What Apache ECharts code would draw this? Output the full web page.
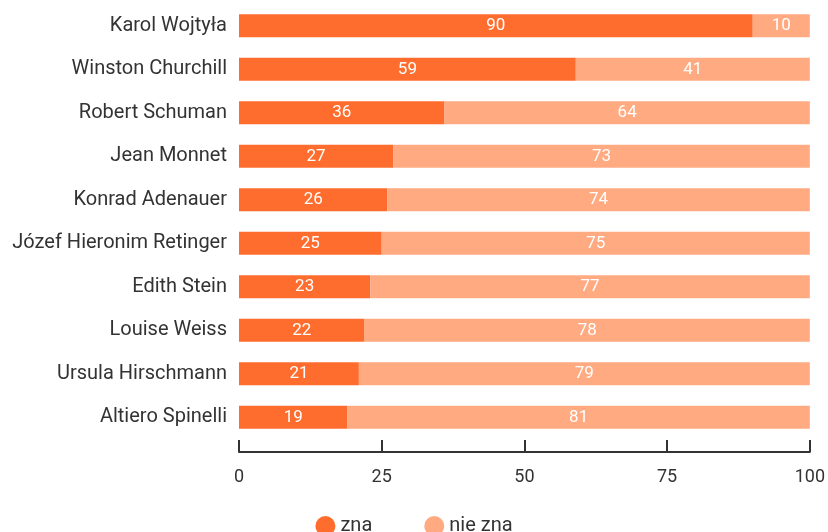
<!DOCTYPE html>
<html>
<head>
<meta charset="utf-8">
<script src="https://cdn.jsdelivr.net/npm/echarts@6/dist/echarts.min.js"></script>
<style>
    html, body { margin: 0; padding: 0; background: #fff; }
    #chart { width: 828px; height: 532px; }
</style>
</head>
<body>
<div id="chart"></div>
<script>
// dane z wykresu
const names = ['Karol Wojtyła', 'Winston Churchill', 'Robert Schuman', 'Jean Monnet', 'Konrad Adenauer',
    'Józef Hieronim Retinger', 'Edith Stein', 'Louise Weiss', 'Ursula Hirschmann', 'Altiero Spinelli']
const zna = [90, 59, 36, 27, 26, 25, 23, 22, 21, 19]
const nieZna = [10, 41, 64, 73, 74, 75, 77, 78, 79, 81]
const ticks = [0, 25, 50, 75, 100]

const chart = echarts.init(document.getElementById('chart'))

const font = 'Roboto, "Noto Sans", sans-serif'

chart.setOption({
    animation: false,
    textStyle: { fontFamily: font },
    grid: { left: 239, right: 17, top: 4, bottom: 93 },
    legend: {
        bottom: -9,
        left: 'center',
        icon: 'circle',
        itemWidth: 20,
        itemHeight: 20,
        itemGap: 52,
        textStyle: { fontSize: 20, color: '#333', fontFamily: font },
        data: ['zna', 'nie zna']
    },
    xAxis: {
        type: 'value',
        min: 0,
        max: 100,
        interval: 25,
        offset: 13,
        axisLine: { show: true, lineStyle: { color: '#333', width: 2 } },
        axisTick: { show: true, inside: true, length: 12, lineStyle: { color: '#333', width: 2 } },
        axisLabel: {
            margin: 16, fontSize: 18, color: '#333', fontFamily: font,
            formatter: v => ticks.includes(v) ? String(v) : ''
        },
        splitLine: { show: false }
    },
    yAxis: {
        type: 'category',
        inverse: true,
        data: names,
        axisLine: { show: false },
        axisTick: { show: false },
        axisLabel: { fontSize: 20, color: '#333', margin: 12, fontFamily: font, padding: [4, 0, 0, 0] }
    },
    series: [
        {
            name: 'zna',
            type: 'bar',
            stack: 'all',
            barWidth: 23,
            data: zna,
            itemStyle: { color: '#FF6D2E' },
            label: { show: true, position: 'inside', color: '#fff', fontSize: 17, fontFamily: font, padding: [3, 0, 0, 0] }
        },
        {
            name: 'nie zna',
            type: 'bar',
            stack: 'all',
            barWidth: 23,
            data: nieZna,
            itemStyle: { color: '#FFAA80' },
            label: { show: true, position: 'inside', color: '#fff', fontSize: 17, fontFamily: font, padding: [3, 0, 0, 0] }
        }
    ]
})
</script>
</body>
</html>
